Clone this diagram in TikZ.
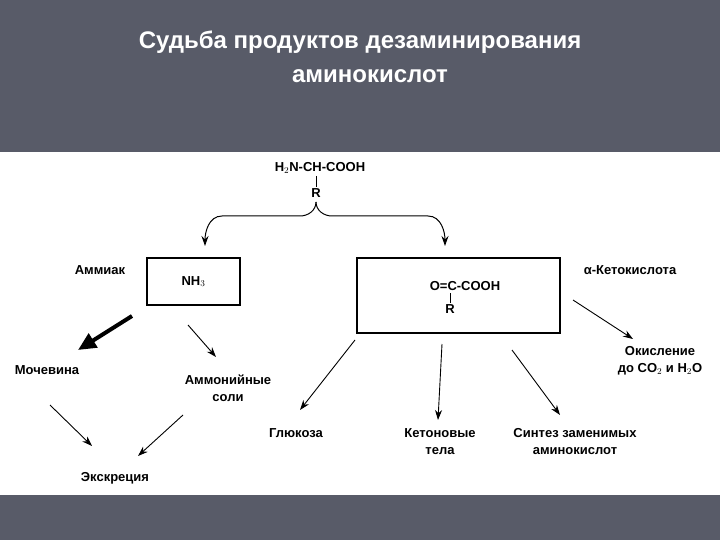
\documentclass[tikz,border=0pt]{standalone}
\usepackage{fontspec}
\setmainfont{Liberation Sans}
\usetikzlibrary{arrows.meta}
\begin{document}
\begin{tikzpicture}[x=1pt,y=-1pt,
  lbl/.style={font=\bfseries\fontsize{13}{17}\selectfont, align=center, inner sep=1pt},
  arr/.style={draw=black, line width=0.9pt, -{Stealth[length=10pt,width=7pt]}},
  box/.style={draw=black, line width=1.3pt}]
\useasboundingbox (0,0) rectangle (720,540);
\fill[fill={rgb,255:red,88;green,91;blue,104}] (0,0) rectangle (720,540);
\fill[white] (0,152) rectangle (720,495);
\node[text=white, font=\bfseries\fontsize{24}{28}\selectfont] (t1) at (360,42) {Судьба продуктов дезаминирования};
\node[text=white, font=\bfseries\fontsize{24}{28}\selectfont] (t2) at (370,76) {аминокислот};
\node[lbl] (aa) at (320,168) {H$_2$N-CH-COOH};
\node[lbl] (r1) at (316,193) {R};
\draw[line width=0.7pt] (316,176) -- (r1.north);
\coordinate (sp) at (316,202);
\coordinate (tl) at (205,246);
\coordinate (tr) at (445,246);
\draw[line width=1pt, -{Stealth[length=10pt,width=7pt]}] (sp) to[out=-90,in=0] (300,216) -- (222,216) to[out=180,in=90] (tl);
\draw[line width=1pt, -{Stealth[length=10pt,width=7pt]}] (sp) to[out=-90,in=180] (332,216) -- (428,216) to[out=0,in=90] (tr);
\node[lbl] (am) at (100,270) {Аммиак};
\node[box, minimum width=93pt, minimum height=47pt, lbl] (nh) at (193.5,281.5) {NH$_3$};
\node[box, minimum width=203pt, minimum height=75pt] (kb) at (458.5,295.5) {};
\node[lbl] (kf) at (465,286) {O=C-COOH};
\node[lbl] (r2) at (450,309) {R};
\draw[line width=0.7pt] (450,293) -- (r2.north);
\node[lbl] (kt) at (630,270) {α-Кетокислота};
\node[lbl] (mo) at (47,370) {Мочевина};
\node[lbl] (as) at (228,388) {Аммонийные\\соли};
\node[lbl] (ek) at (115,478) {Экскреция};
\node[lbl] (gl) at (296,433) {Глюкоза};
\node[lbl] (ke) at (440,442) {Кетоновые\\тела};
\node[lbl] (si) at (575,442) {Синтез заменимых\\аминокислот};
\node[lbl] (ok) at (660,361) {Окисление\\до CO$_2$ и H$_2$O};
\coordinate (k1) at (355,340);
\coordinate (k2) at (442,344);
\coordinate (k3) at (512,350);
\coordinate (k4) at (573,300);
\coordinate (n1) at (132,316);
\coordinate (n2) at (188,325);
\coordinate (m1) at (50,405);
\coordinate (a1) at (183,415);
\draw[line width=4pt, -{Triangle[length=18pt,width=16pt]}] (n1) -- (78,350);
\draw[arr] (n2) -- (216,357);
\draw[arr] (m1) -- (92,446);
\draw[arr] (a1) -- (138,456);
\draw[arr] (k1) -- (300,410);
\draw[arr] (k2) -- (438,420);
\draw[arr] (k3) -- (560,415);
\draw[arr] (k4) -- (633,339);
\end{tikzpicture}
\end{document}
